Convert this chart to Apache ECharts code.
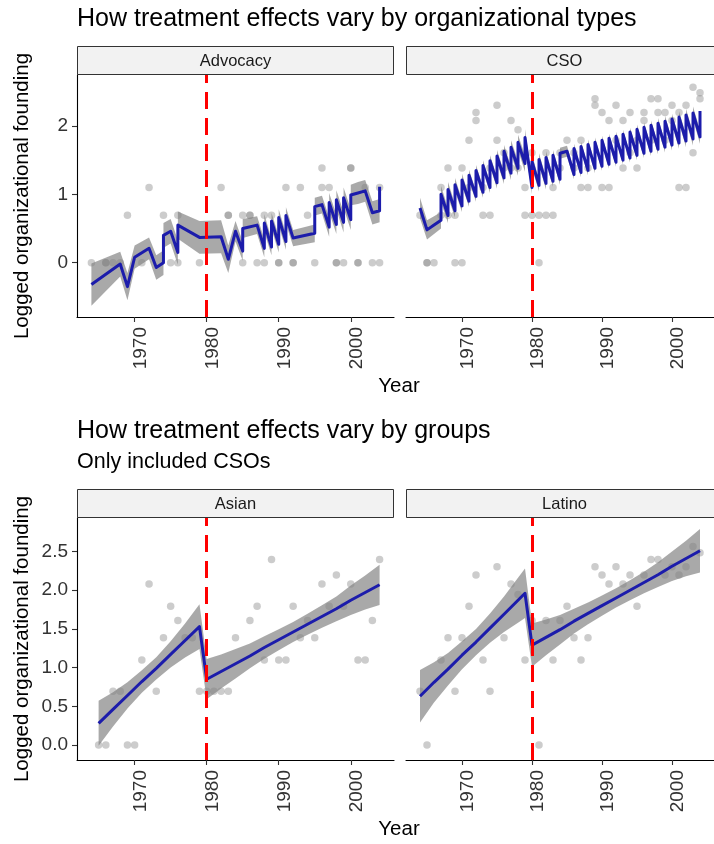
<!DOCTYPE html>
<html>
<head>
<meta charset="utf-8">
<script src="https://cdn.jsdelivr.net/npm/echarts@6/dist/echarts.min.js"></script>
<style>
  html, body { margin: 0; padding: 0; background: #ffffff; }
  #chart { width: 714px; height: 844px; }
</style>
</head>
<body>
<div id="chart"></div>
<script>
// ---------- shared scales ----------
const treatmentYear = 1980;
const xTicks = [1970, 1980, 1990, 2000];
const topYTicks = [0, 1, 2];
const bottomYTicks = [0, 0.5, 1, 1.5, 2, 2.5];
const panelNames = ['Advocacy', 'CSO', 'Asian', 'Latino'];

// ---------- observed (logged) foundings ----------
const advocacyYears = [1964, 1966, 1966, 1967, 1968, 1971, 1975, 1976, 1979, 1985, 1987, 1988,
  1990, 1990, 1992, 1992, 1995, 1998, 1998, 1999, 2001, 2001, 2003, 2004,
  1969, 1974, 1976, 1983, 1983, 1985, 1986, 1986, 1988, 1989, 1994,
  1972, 1982, 1991, 1993, 1996, 1997, 2002, 2004,
  1996, 2000, 2000];
const advocacyValues = [0, 0, 0, 0, 0, 0, 0, 0, 0, 0, 0, 0,
  0, 0, 0, 0, 0, 0, 0, 0, 0, 0, 0, 0,
  0.693, 0.693, 0.693, 0.693, 0.693, 0.693, 0.693, 0.693, 0.693, 0.693, 0.693,
  1.099, 1.099, 1.099, 1.099, 1.099, 1.099, 1.099, 1.099,
  1.386, 1.386, 1.386];

const asianYears = [1965, 1966, 1967, 1968, 1969, 1970, 1971, 1972, 1973, 1974, 1975, 1976, 1977,
  1978, 1979, 1980, 1981, 1982, 1983, 1984, 1986, 1987, 1988, 1989, 1990, 1991, 1992, 1993,
  1994, 1995, 1996, 1997, 1998, 1999, 2000, 2001, 2002, 2003, 2004];
const asianValues = [0, 0, 0.693, 0.693, 0, 0, 1.099, 2.079, 0.693, 1.386, 1.792, 1.609, 1.386,
  1.386, 0.693, 0.693, 0.693, 0.693, 0.693, 1.386, 1.609, 1.792, 1.099, 2.398, 1.099, 1.099, 1.792, 1.386,
  1.609, 1.386, 2.079, 1.792, 2.197, 1.792, 2.079, 1.099, 1.099, 1.609, 2.398];

const latinoYears = [1964, 1965, 1967, 1968, 1969, 1970, 1971, 1972, 1973, 1974, 1975, 1976, 1977,
  1978, 1979, 1980, 1981, 1982, 1983, 1984, 1985, 1986, 1987, 1988, 1989, 1990, 1991, 1992,
  1993, 1994, 1995, 1996, 1997, 1998, 1999, 2000, 2001, 2002, 2003, 2004];
const latinoValues = [0.693, 0, 1.099, 1.386, 0.693, 1.386, 1.792, 2.197, 1.099, 0.693, 2.303, 1.386, 2.079,
  1.946, 1.099, 1.609, 0, 1.609, 1.099, 1.609, 1.792, 1.386, 1.099, 1.386, 2.303, 2.197, 2.079, 2.303,
  2.079, 2.197, 1.792, 2.197, 2.398, 2.398, 2.197, 2.303, 2.197, 2.303, 2.565, 2.485];

// ---------- fitted values and confidence margins ----------
const advocacyFitYears = [1964, 1968, 1969, 1970, 1972, 1973, 1974, 1974, 1975, 1976,
  1976, 1979, 1982, 1983, 1984, 1985, 1985, 1987, 1988, 1988,
  1989, 1989, 1990, 1990, 1991, 1991, 1992, 1995, 1995, 1996,
  1997, 1997, 1998, 1998, 1999, 1999, 2000, 2000, 2001, 2002,
  2003, 2004, 2004];
const advocacyFit = [-0.32, -0.02, -0.35, 0.08, 0.21, -0.07, 0.00, 0.40, 0.46, 0.15,
  0.55, 0.37, 0.38, 0.05, 0.46, 0.17, 0.50, 0.55, 0.21, 0.58,
  0.23, 0.61, 0.27, 0.66, 0.31, 0.69, 0.36, 0.43, 0.82, 0.85,
  0.52, 0.88, 0.56, 0.92, 0.59, 0.95, 0.63, 0.99, 1.02, 1.05,
  0.73, 0.76, 1.11];
const advocacyMargin = [0.31, 0.18, 0.20, 0.17, 0.16, 0.18, 0.18, 0.18, 0.18, 0.18,
  0.20, 0.24, 0.24, 0.20, 0.15, 0.14, 0.14, 0.13, 0.13, 0.13,
  0.12, 0.12, 0.12, 0.12, 0.12, 0.12, 0.12, 0.13, 0.13, 0.13,
  0.14, 0.14, 0.14, 0.14, 0.15, 0.15, 0.15, 0.15, 0.16, 0.16,
  0.17, 0.17, 0.17];

// CSO fit per year: lower group first, then upper group
const csoLineYears = [1964, 1965, 1966, 1967, 1968, 1969, 1970, 1971, 1972, 1973, 1974, 1975, 1976, 1977,
  1978, 1979, 1980, 1981, 1982, 1983, 1984, 1985, 1986, 1987, 1988, 1989, 1990, 1991,
  1992, 1993, 1994, 1995, 1996, 1997, 1998, 1999, 2000, 2001, 2002, 2003, 2004];
const csoLowFit = [null, 0.48, 0.55, 0.62, 0.69, 0.76, 0.83, 0.90, 0.97, 1.03, 1.10, 1.17, 1.24, 1.31,
  1.38, 1.45, 1.10, 1.13, 1.16, 1.19, 1.22, null, 1.29, 1.32, 1.35, 1.38, 1.41, 1.44,
  1.47, 1.50, 1.53, 1.57, 1.60, 1.63, 1.66, 1.69, 1.72, 1.75, 1.78, 1.81, 1.84];
const csoHighFit = [0.80, null, null, 1.00, 1.07, 1.14, 1.21, 1.28, 1.35, 1.42, 1.49, 1.56, 1.63, 1.69,
  1.76, 1.83, 1.48, 1.51, 1.54, 1.57, 1.60, 1.63, 1.67, 1.70, 1.73, 1.76, 1.79, 1.82,
  1.85, 1.88, 1.91, 1.95, 1.98, 2.01, 2.04, 2.07, 2.10, 2.13, 2.16, 2.19, 2.22];
const csoMargin = [0.15, 0.14, 0.13, 0.12, 0.11, 0.10, 0.09, 0.08, 0.08, 0.08, 0.08, 0.09, 0.09, 0.10,
  0.11, 0.12, 0.10, 0.09, 0.09, 0.08, 0.08, 0.08, 0.07, 0.07, 0.07, 0.07, 0.065, 0.065,
  0.065, 0.065, 0.065, 0.07, 0.07, 0.07, 0.075, 0.08, 0.08, 0.085, 0.09, 0.095, 0.10];

const asianFitYears = [1965, 1967, 1969, 1971, 1973, 1975, 1977, 1979,
  1980, 1982, 1984, 1986, 1988, 1990, 1992, 1994, 1996, 1998, 2000, 2002, 2004];
const asianFit = [0.28, 0.46, 0.64, 0.82, 0.99, 1.17, 1.35, 1.53,
  0.85, 0.95, 1.05, 1.15, 1.26, 1.36, 1.46, 1.56, 1.66, 1.76, 1.87, 1.97, 2.07];
const asianMargin = [0.29, 0.22, 0.17, 0.145, 0.145, 0.17, 0.22, 0.29,
  0.26, 0.22, 0.19, 0.16, 0.145, 0.135, 0.13, 0.135, 0.145, 0.16, 0.19, 0.22, 0.26];

const latinoFitYears = [1964, 1966, 1968, 1970, 1972, 1974, 1976, 1978, 1979,
  1980, 1982, 1984, 1986, 1988, 1990, 1992, 1994, 1996, 1998, 2000, 2002, 2004];
const latinoFit = [0.63, 0.81, 0.98, 1.16, 1.33, 1.51, 1.69, 1.87, 1.96,
  1.29, 1.39, 1.49, 1.60, 1.70, 1.80, 1.90, 2.00, 2.10, 2.20, 2.31, 2.41, 2.51];
const latinoMargin = [0.34, 0.26, 0.21, 0.18, 0.17, 0.19, 0.23, 0.29, 0.32,
  0.28, 0.23, 0.19, 0.16, 0.14, 0.13, 0.125, 0.13, 0.14, 0.16, 0.19, 0.23, 0.28];

// ---------- helpers ----------
const FONT = '"Liberation Sans", Arial, Helvetica, sans-serif';
const POINT_COLOR = 'rgba(128,128,128,0.5)';
const RIBBON_COLOR = 'rgba(128,128,128,0.68)';
const FIT_COLOR = '#1c1cab';
const TICK_FONT = 19;

function zip(xs, ys) { return xs.map((x, i) => [x, ys[i]]); }

function csoVertices() {
  const out = [];
  csoLineYears.forEach((yr, i) => {
    if (csoLowFit[i] !== null) out.push([yr, csoLowFit[i], csoMargin[i]]);
    if (csoHighFit[i] !== null) out.push([yr, csoHighFit[i], csoMargin[i]]);
  });
  return out;
}
function toVertices(years, fit, margin) {
  return years.map((yr, i) => [yr, fit[i], margin[i]]);
}

const panels = [
  { points: zip(advocacyYears, advocacyValues), fit: toVertices(advocacyFitYears, advocacyFit, advocacyMargin), yMin: -0.794, yMax: 2.745, yTicks: topYTicks },
  { points: zip(asianYears.concat(latinoYears), asianValues.concat(latinoValues)), fit: csoVertices(), yMin: -0.794, yMax: 2.745, yTicks: topYTicks },
  { points: zip(asianYears, asianValues), fit: toVertices(asianFitYears, asianFit, asianMargin), yMin: -0.194, yMax: 2.933, yTicks: bottomYTicks },
  { points: zip(latinoYears, latinoValues), fit: toVertices(latinoFitYears, latinoFit, latinoMargin), yMin: -0.194, yMax: 2.933, yTicks: bottomYTicks }
];

const gridBoxes = [
  { left: 77, top: 75, width: 317, height: 242 },
  { left: 406, top: 75, width: 317, height: 242 },
  { left: 77, top: 518, width: 317, height: 242 },
  { left: 406, top: 518, width: 317, height: 242 }
];

const grid = [], xAxis = [], yAxis = [], series = [];

panels.forEach((p, i) => {
  const showY = (i % 2 === 0);
  grid.push(Object.assign({ containLabel: false }, gridBoxes[i]));
  xAxis.push({
    gridIndex: i, type: 'value', min: 1962, max: 2006,
    axisLine: { show: true, onZero: false, lineStyle: { color: '#000', width: 1.1 } },
    axisTick: { show: true, length: 5, customValues: xTicks, lineStyle: { color: '#333', width: 1.1 } },
    axisLabel: { customValues: xTicks, rotate: 90, margin: 10, fontSize: TICK_FONT, color: '#333', fontFamily: FONT,
      verticalAlign: 'top', lineHeight: 12, formatter: v => String(v) },
    splitLine: { show: false }
  });
  yAxis.push({
    gridIndex: i, type: 'value', min: p.yMin, max: p.yMax,
    axisLine: { show: showY, onZero: false, lineStyle: { color: '#000', width: 1.1 } },
    axisTick: { show: showY, length: 5, customValues: p.yTicks, lineStyle: { color: '#333', width: 1.1 } },
    axisLabel: { show: showY, customValues: p.yTicks, margin: 9, fontSize: TICK_FONT, color: '#333', fontFamily: FONT,
      formatter: v => (i < 2 ? String(v) : v.toFixed(1)) },
    splitLine: { show: false }
  });

  // observations
  series.push({
    type: 'scatter', xAxisIndex: i, yAxisIndex: i, z: 1, silent: true,
    symbol: 'circle', symbolSize: 7.5,
    itemStyle: { color: POINT_COLOR },
    data: p.points
  });

  // confidence ribbon
  const band = p.fit;
  series.push({
    type: 'custom', xAxisIndex: i, yAxisIndex: i, z: 2, silent: true,
    data: band.map(d => [d[0], d[1] - d[2], d[1] + d[2]]),
    encode: { x: 0, y: [1, 2] },
    renderItem: function (params, api) {
      if (params.dataIndex !== 0) return null;
      const upper = band.map(d => api.coord([d[0], d[1] + d[2]]));
      const lower = band.map(d => api.coord([d[0], d[1] - d[2]])).reverse();
      return { type: 'polygon', shape: { points: upper.concat(lower) }, style: { fill: RIBBON_COLOR } };
    }
  });

  // fitted line
  series.push({
    type: 'line', xAxisIndex: i, yAxisIndex: i, z: 3, silent: true,
    showSymbol: false, symbol: 'none',
    lineStyle: { color: FIT_COLOR, width: 3, join: 'round' },
    data: band.map(d => [d[0], d[1]])
  });

  // treatment year marker
  series.push({
    type: 'line', xAxisIndex: i, yAxisIndex: i, z: 4, silent: true,
    data: [],
    markLine: {
      silent: true, symbol: ['none', 'none'], label: { show: false },
      lineStyle: { color: '#ff0000', width: 3, type: [17, 9] },
      data: [{ xAxis: treatmentYear }]
    }
  });
});

function txt(x, y, text, size, align, rotation) {
  return {
    type: 'text', x: x, y: y, silent: true, rotation: rotation || 0,
    style: { text: text, fontSize: size, fontFamily: FONT, fill: '#000', align: align, verticalAlign: 'middle' }
  };
}

const graphic = [
  txt(77, 19, 'How treatment effects vary by organizational types', 25, 'left'),
  txt(77, 431, 'How treatment effects vary by groups', 25, 'left'),
  txt(77, 462, 'Only included CSOs', 21.5, 'left'),
  txt(399, 386, 'Year', 20.5, 'center'),
  txt(399, 829, 'Year', 20.5, 'center'),
  txt(22, 196, 'Logged organizational founding', 20.5, 'center', Math.PI / 2),
  txt(22, 639, 'Logged organizational founding', 20.5, 'center', Math.PI / 2)
];

// facet strips
gridBoxes.forEach((g, i) => {
  const stripTop = g.top - 29;
  graphic.push({
    type: 'rect', silent: true,
    shape: { x: g.left + 0.5, y: stripTop + 0.5, width: g.width - 1, height: 28 },
    style: { fill: '#f2f2f2', stroke: '#333', lineWidth: 1 }
  });
  graphic.push({
    type: 'text', silent: true, x: g.left + g.width / 2, y: stripTop + 15,
    style: { text: panelNames[i], fontSize: 16.5, fontFamily: FONT, fill: '#1a1a1a', align: 'center', verticalAlign: 'middle' }
  });
});

const chart = echarts.init(document.getElementById('chart'), null, { renderer: 'canvas' });
chart.setOption({
  animation: false,
  backgroundColor: '#ffffff',
  grid: grid,
  xAxis: xAxis,
  yAxis: yAxis,
  series: series,
  graphic: graphic
});
</script>
</body>
</html>
